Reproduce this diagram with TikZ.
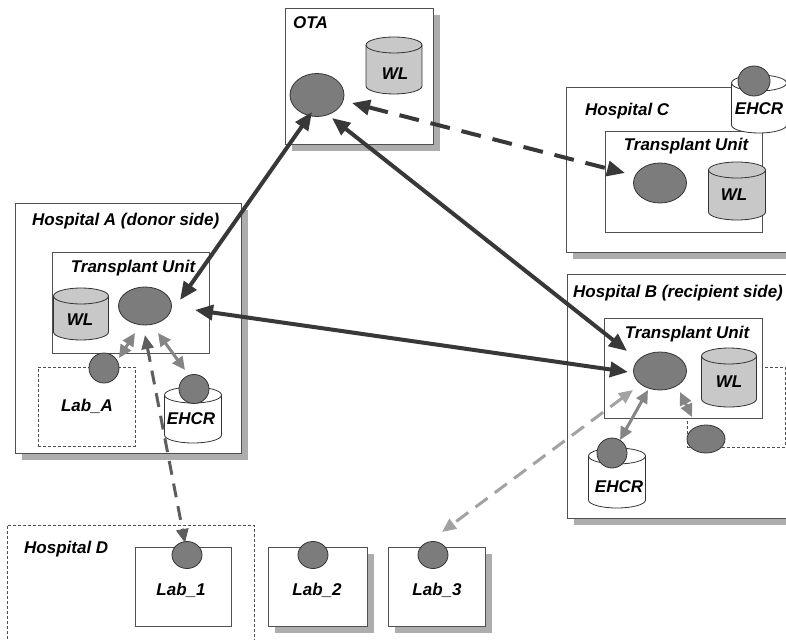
\documentclass[tikz,border=0pt]{standalone}
\usepackage{fontspec}
\setmainfont{Liberation Sans}
\usetikzlibrary{shapes.geometric,arrows.meta,shadows}
\definecolor{boxline}{HTML}{505050}
\definecolor{blobfill}{HTML}{7C7C7C}
\definecolor{wlfill}{HTML}{C8C8C8}
\definecolor{darkarrow}{HTML}{383838}
\definecolor{midarrow}{HTML}{5E5E5E}
\definecolor{grayarrow}{HTML}{858585}
\definecolor{lightarrow}{HTML}{A2A2A2}
\newcommand\mkcyl[5]{%
  \filldraw[cylstyle,fill=#5] ({#1-#3/2},{-(#2)-8}) -- ({#1-#3/2},{-(#2)-(#4)+8})
    arc[start angle=180,end angle=360,x radius=#3/2,y radius=8]
    -- ({#1+#3/2},{-(#2)-8})
    arc[start angle=0,end angle=180,x radius=#3/2,y radius=8] -- cycle;
  \draw[cylstyle] ({#1-#3/2},{-(#2)-8})
    arc[start angle=180,end angle=360,x radius=#3/2,y radius=8];
}
\begin{document}
\begin{tikzpicture}[x=1pt,y=1pt,
  box/.style={draw=boxline,line width=0.8pt,fill=white,rectangle,inner sep=0pt,outer sep=0pt,anchor=north west},
  shbox/.style={box,general shadow={fill=black!32,shadow xshift=7pt,shadow yshift=-7pt}},
  dbox/.style={box,dash pattern=on 3pt off 2pt},
  lbl/.style={font=\fontsize{17}{20}\selectfont\bfseries\itshape,inner sep=0pt,anchor=base},
  lblw/.style={lbl,anchor=base west},
  blob/.style={ellipse,draw=black!80,fill=blobfill,line width=0.8pt,inner sep=0pt},
  cylstyle/.style={draw=black!80,line width=0.8pt},
  darr/.style={line width=4pt,draw=darkarrow,{Triangle[length=18pt,width=15pt,fill=darkarrow]}-{Triangle[length=18pt,width=15pt,fill=darkarrow]}},
  garr/.style={line width=3pt,draw=grayarrow,{Triangle[length=13pt,width=12pt,fill=grayarrow]}-{Triangle[length=13pt,width=12pt,fill=grayarrow]}},
]
\useasboundingbox (0,0) rectangle (786,-639);
\clip (0,0) rectangle (786,-639);
\fill[white] (0,0) rectangle (786,-639);

% ---------- OTA ----------
\node[shbox,minimum width=148pt,minimum height=136pt] (ota) at (285,-8) {};
\node[lblw] (otat) at (293,-29) {OTA};
\mkcyl{394}{37}{56}{57}{wlfill}
\node[lbl] (otawl) at (395,-80) {WL};
\node[blob,minimum width=54pt,minimum height=43pt] (otae) at (317,-95) {};

% ---------- Hospital C ----------
\node[shbox,minimum width=226pt,minimum height=165pt] (hc) at (566,-87) {};
\node[lblw] (hct) at (585,-116) {Hospital C};
\node[box,minimum width=157pt,minimum height=101pt] (tuc) at (605,-131) {};
\node[lbl] (tuct) at (686,-151) {Transplant Unit};
\node[blob,minimum width=53pt,minimum height=40pt] (ce) at (660,-183) {};
\mkcyl{737}{162}{57}{58}{wlfill}
\node[lbl] (cwl) at (734,-200) {WL};
\mkcyl{759}{75}{55}{58}{white}
\node[blob,minimum width=32pt,minimum height=30pt] (ecc) at (754,-81) {};
\node[lbl] (ecct) at (759,-115) {EHCR};

% ---------- Hospital A ----------
\node[shbox,minimum width=226pt,minimum height=250pt] (ha) at (15,-203) {};
\node[lblw] (hat) at (32,-225) {Hospital A (donor side)};
\node[box,minimum width=157pt,minimum height=101pt] (tua) at (52,-252) {};
\node[lbl] (tuat) at (133,-272) {Transplant Unit};
\mkcyl{81}{288}{55}{52}{wlfill}
\node[lbl] (awl) at (80,-325) {WL};
\node[blob,minimum width=53pt,minimum height=38pt] (ae) at (145,-306) {};
\node[dbox,minimum width=97pt,minimum height=79pt] (laba) at (38,-367) {};
\node[blob,minimum width=30pt,minimum height=30pt] (lae) at (104,-368) {};
\node[lbl] (labat) at (87,-411) {Lab\_A};
\mkcyl{193}{387}{57}{56}{white}
\node[blob,minimum width=30pt,minimum height=29pt] (eca) at (194,-389) {};
\node[lbl] (ecat) at (191,-424) {EHCR};

% ---------- Hospital B ----------
\node[shbox,minimum width=226pt,minimum height=244pt] (hb) at (567,-274) {};
\node[lblw] (hbt) at (573,-297) {Hospital B (recipient side)};
\node[dbox,minimum width=98pt,minimum height=80pt] (labb) at (687,-367) {};
\node[box,minimum width=158pt,minimum height=100pt] (tub) at (604,-318) {};
\node[lbl] (tubt) at (687,-338) {Transplant Unit};
\node[blob,minimum width=53pt,minimum height=38pt] (be) at (660,-371) {};
\mkcyl{729}{348}{55}{59}{wlfill}
\node[lbl] (bwl) at (729,-387) {WL};
\node[blob,minimum width=38pt,minimum height=28pt] (lbe) at (706,-439) {};
\mkcyl{617}{448}{57}{60}{white}
\node[blob,minimum width=30pt,minimum height=30pt] (ecb) at (612,-453) {};
\node[lbl] (ecbt) at (619,-492) {EHCR};

% ---------- Hospital D and labs ----------
\node[dbox,minimum width=247pt,minimum height=125pt] (hd) at (7,-525) {};
\node[lblw] (hdt) at (24,-553) {Hospital D};
\node[box,minimum width=96pt,minimum height=79pt] (l1) at (135,-547) {};
\node[blob,minimum width=30pt,minimum height=27pt] (l1c) at (187,-555) {};
\node[lbl] (l1t) at (181,-595) {Lab\_1};
\node[shbox,minimum width=99pt,minimum height=79pt] (l2) at (268,-547) {};
\node[blob,minimum width=30pt,minimum height=27pt] (l2c) at (313,-555) {};
\node[lbl] (l2t) at (317,-595) {Lab\_2};
\node[shbox,minimum width=97pt,minimum height=79pt] (l3) at (388,-547) {};
\node[blob,minimum width=30pt,minimum height=27pt] (l3c) at (433,-555) {};
\node[lbl] (l3t) at (437,-595) {Lab\_3};

% ---------- connector end points ----------
\coordinate (p1o) at (312,-112);  \coordinate (p1a) at (180,-300);
\coordinate (p2o) at (332,-118);  \coordinate (p2b) at (627,-351);
\coordinate (p3a) at (195,-310);  \coordinate (p3b) at (628,-372);
\coordinate (p4o) at (352,-103);  \coordinate (p4c) at (625,-173);
\coordinate (q1l) at (119,-358);  \coordinate (q1a) at (135,-333);
\coordinate (q2a) at (158,-333);  \coordinate (q2e) at (185,-370);
\coordinate (q3b) at (648,-390);  \coordinate (q3e) at (620,-440);
\coordinate (q4b) at (680,-392);  \coordinate (q4l) at (692,-417);
\coordinate (r1a) at (145,-335);  \coordinate (r1l) at (185,-543);
\coordinate (r2b) at (633,-390);  \coordinate (r2l) at (442,-532);

% ---------- connectors ----------
\draw[garr] (q1l) -- (q1a);
\draw[garr] (q2a) -- (q2e);
\draw[garr] (q3b) -- (q3e);
\draw[garr] (q4b) -- (q4l);
\draw[garr,line width=3pt,draw=midarrow,dash pattern=on 14pt off 9pt,
  {Triangle[length=14pt,width=12pt,fill=midarrow]}-{Triangle[length=14pt,width=12pt,fill=midarrow]}] (r1a) -- (r1l);
\draw[garr,line width=3pt,draw=lightarrow,dash pattern=on 15pt off 9pt,
  {Triangle[length=14pt,width=12pt,fill=lightarrow]}-{Triangle[length=14pt,width=12pt,fill=lightarrow]}] (r2b) -- (r2l);
\draw[darr] (p1o) -- (p1a);
\draw[darr] (p2o) -- (p2b);
\draw[darr] (p3a) -- (p3b);
\draw[darr,dash pattern=on 20pt off 12pt] (p4o) -- (p4c);
\end{tikzpicture}
\end{document}
